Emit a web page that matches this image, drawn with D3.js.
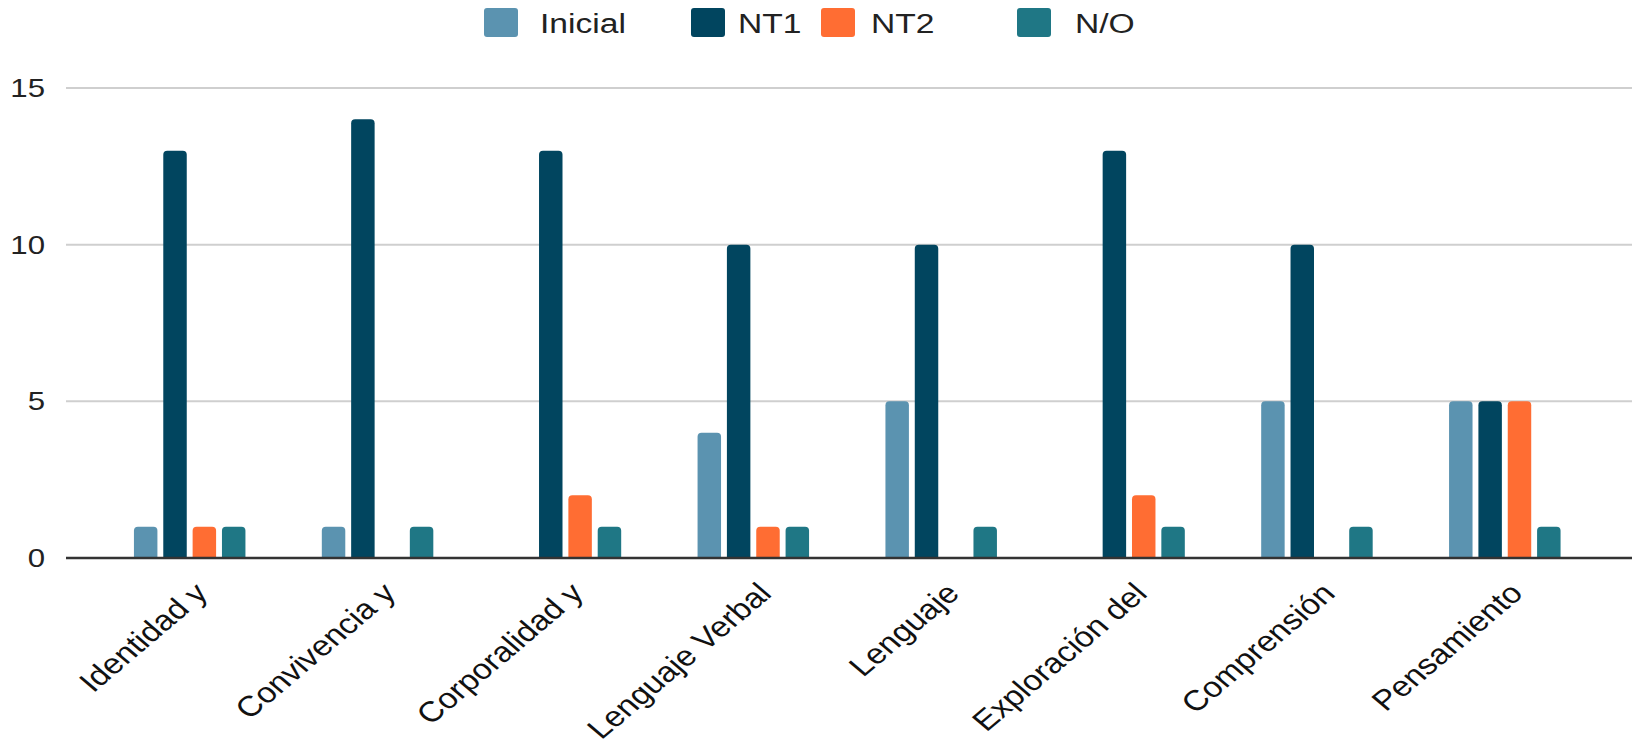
<!DOCTYPE html>
<html><head><meta charset="utf-8">
<script src="https://cdn.jsdelivr.net/npm/d3@7"></script>
<style>html,body{margin:0;padding:0;background:#fff;overflow:hidden}</style>
</head><body>
<svg id="chart" width="1634" height="746"></svg>
<script>
const categories = ["Identidad y","Convivencia y","Corporalidad y","Lenguaje Verbal","Lenguaje","Exploración del","Comprensión","Pensamiento"];
const seriesNames = ["Inicial","NT1","NT2","N/O"];
const inicial = [1,1,0,4,5,0,5,5];
const nt1 = [13,14,13,10,10,13,10,5];
const nt2 = [1,0,2,1,0,2,0,5];
const no = [1,1,1,1,1,1,1,1];
const yTicks = [0,5,10,15];
const colors = ["#5b93b0","#01455f","#ff6d33","#1f7785"];

const seriesValues = [inicial, nt1, nt2, no];
const FONT = "'Liberation Sans', Arial, sans-serif";
const SX = 1.2;
const svg = d3.select("#chart");

const y = d3.scaleLinear().domain([0,15]).range([558,88]);
const x0 = d3.scaleBand().domain(categories).range([95.5,1598.5]);
const x1 = d3.scaleBand().domain(seriesNames).range([-55.5,56]).paddingInner(0.2);
const color = d3.scaleOrdinal().domain(seriesNames).range(colors);

// gridlines
svg.append("g").selectAll("line").data(yTicks.filter(t=>t>0)).join("line")
  .attr("x1",66).attr("x2",1632).attr("y1",d=>y(d)).attr("y2",d=>y(d))
  .attr("stroke","#cfcfcf").attr("stroke-width",2);

// y labels
svg.append("g").selectAll("text").data(yTicks).join("text")
  .attr("transform",d=>`translate(45,${y(d)+9}) scale(${SX},1)`)
  .attr("text-anchor","end").attr("font-family",FONT).attr("font-size",26)
  .attr("fill","#222").text(d=>d);

// bars
function topRounded(xl,yt,w,h,r){
  r=Math.min(r,h,w/2);
  return `M${xl},${yt+h}V${yt+r}Q${xl},${yt} ${xl+r},${yt}H${xl+w-r}Q${xl+w},${yt} ${xl+w},${yt+r}V${yt+h}Z`;
}
const groups = svg.append("g").selectAll("g").data(categories).join("g")
  .attr("transform",c=>`translate(${x0(c)+x0.bandwidth()/2},0)`);
groups.selectAll("path").data((c,i)=>seriesNames.map((s,j)=>({s,v:seriesValues[j][i]})).filter(d=>d.v>0))
  .join("path")
  .attr("d",d=>topRounded(x1(d.s),y(d.v),x1.bandwidth(),y(0)-y(d.v),4))
  .attr("fill",d=>color(d.s));

// zero axis
svg.append("line").attr("x1",66).attr("x2",1632).attr("y1",y(0)).attr("y2",y(0))
  .attr("stroke","#333").attr("stroke-width",2.5);

// x labels
svg.append("g").selectAll("text").data(categories).join("text")
  .attr("transform",c=>`translate(${x0(c)+x0.bandwidth()/2+20},595) scale(1.18,1) rotate(-45)`)
  .attr("text-anchor","end").attr("font-family",FONT).attr("font-size",28.5)
  .attr("fill","#111").text(c=>c);

// legend
const legendX = [484,691,821,1017];
const legendTextX = [540,738,871,1075];
const leg = svg.append("g").selectAll("g").data(seriesNames).join("g");
leg.append("rect").attr("x",(s,i)=>legendX[i]).attr("y",8)
  .attr("width",34).attr("height",29).attr("rx",3).attr("fill",s=>color(s));
leg.append("text").attr("transform",(s,i)=>`translate(${legendTextX[i]},33) scale(${SX},1)`)
  .attr("font-family",FONT).attr("font-size",28).attr("fill","#222").text(s=>s);
</script>
</body></html>
